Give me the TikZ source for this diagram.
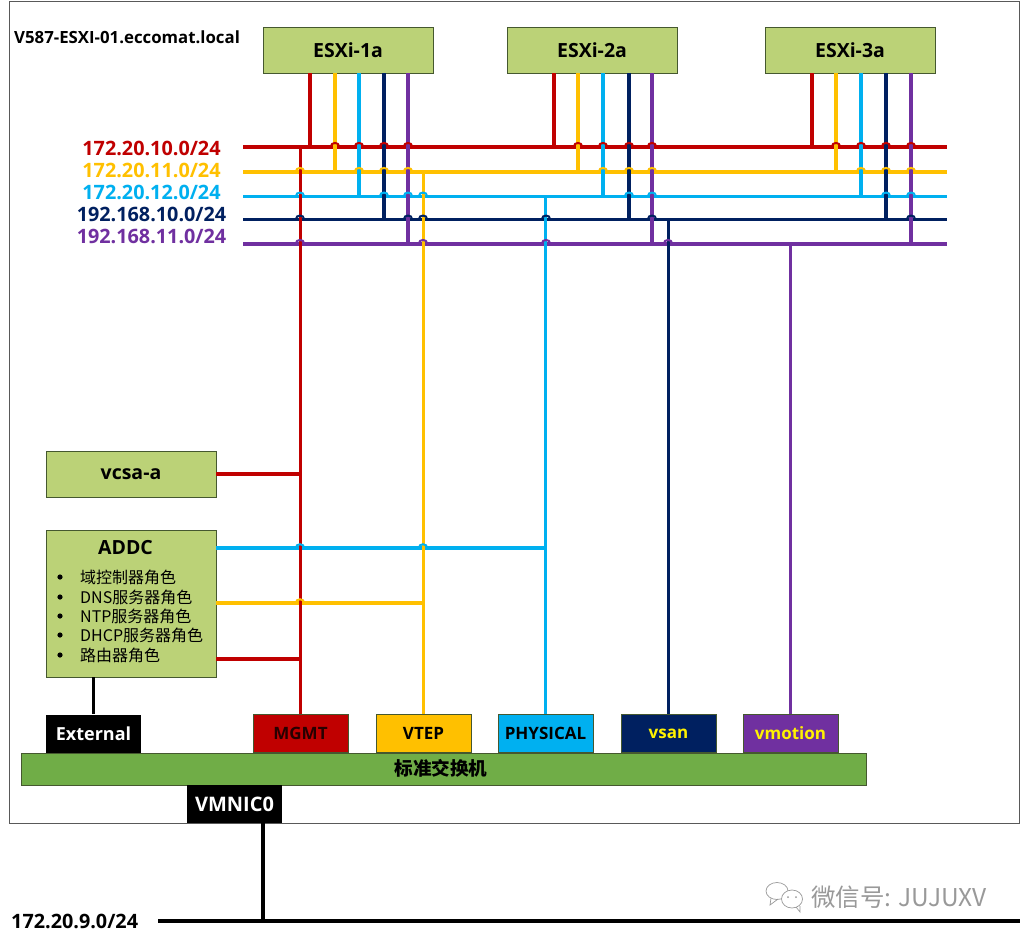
\documentclass[tikz,border=0pt]{standalone}
\usepackage{fontspec}
\setmainfont{Open Sans}
\newfontfamily\cjk{Noto Sans CJK SC}
\definecolor{cR}{HTML}{C00000}
\definecolor{cY}{HTML}{FFC000}
\definecolor{cB}{HTML}{00B0F0}
\definecolor{cN}{HTML}{002060}
\definecolor{cP}{HTML}{7030A0}
\definecolor{boxg}{HTML}{BBD277}
\definecolor{swg}{HTML}{70AD47}
\definecolor{edge}{HTML}{45582F}
\tikzset{
  wire/.style={line width=3.6pt},
  greenbox/.style={draw=edge,line width=0.8pt,fill=boxg,inner sep=0pt,font=\bfseries\fontsize{19.5}{21}\selectfont},
  portbox/.style={minimum width=95pt,minimum height=38pt,inner sep=0pt,font=\bfseries\fontsize{17}{19}\selectfont},
  netlabel/.style={anchor=center,inner sep=0pt,font=\bfseries\fontsize{19.8}{21}\selectfont},
}
% jump arc: x, y, colour
\newcommand{\jump}[3]{\draw[#3,line width=2pt] (#1-4.2,#2) .. controls (#1-4.2,#2-5) and (#1+4.2,#2-5) .. (#1+4.2,#2);}
% tap from a host box down to a bus
\newcommand{\tap}[4]{\draw[wire,#4] ([xshift=#2pt]#1.south) coordinate (tt) -- (tt |- #3);}
\begin{document}
\begin{tikzpicture}[x=1pt,y=-1pt]
\useasboundingbox (0,0) rectangle (1022,943);
\fill[white] (0,0) rectangle (1022,943);
\draw[draw=black!65,line width=1pt] (9,1.5) rectangle (1019,823.5);
\node[anchor=west,inner sep=0pt,font=\bfseries\fontsize{16.8}{18}\selectfont] (title) at (14,37) {V587-ESXI-01.eccomat.local};

% hosts
\node[greenbox,minimum width=170pt,minimum height=46pt] (e1) at (348,50) {ESXi-1a};
\node[greenbox,minimum width=170pt,minimum height=46pt] (e2) at (592,50) {ESXi-2a};
\node[greenbox,minimum width=170pt,minimum height=46pt] (e3) at (850,50) {ESXi-3a};

% bus labels
\node[netlabel,text=cR] (lR) at (151.5,148) {172.20.10.0/24};
\node[netlabel,text=cY] (lY) at (151.5,170.5) {172.20.11.0/24};
\node[netlabel,text=cB] (lB) at (151.5,192) {172.20.12.0/24};
\node[netlabel,text=cN] (lN) at (151.5,214) {192.168.10.0/24};
\node[netlabel,text=cP] (lP) at (151.5,236) {192.168.11.0/24};

% bus ends
\foreach \n/\y in {R/146.7,Y/171.7,B/196.3,N/219.3,P/243.7}{
  \coordinate (b\n a) at (243,\y);
  \coordinate (b\n b) at (947,\y);
}
\draw[wire,cR] (bRa) -- (bRb);
\draw[wire,cY] (bYa) -- (bYb);
\draw[wire,cB] (bBa) -- (bBb);
\draw[wire,cN] (bNa) -- (bNb);
\draw[wire,cP] (bPa) -- (bPb);

% vcsa, ADDC
\node[greenbox,minimum width=170pt,minimum height=46pt] (vcsa) at (131,474) {vcsa-a};
\node[greenbox,minimum width=170pt,minimum height=147pt] (addc) at (131,603.5) {};
\node[inner sep=0pt,font=\bfseries\fontsize{19.5}{21}\selectfont] (addct) at (125.5,548) {ADDC};
\foreach \nm/\yy/\txt in {i1/577/域控制器角色,i2/597/DNS服务器角色,i3/616/NTP服务器角色,i4/635/DHCP服务器角色,i5/655/路由器角色}{
  \fill (60,\yy) circle (2.6);
  \node[anchor=west,inner sep=0pt,font=\cjk\fontsize{16}{18}\selectfont] (\nm) at (80,\yy) {\txt};
}

% ports and switch
\node[portbox,fill=black,text=white,font=\bfseries\fontsize{18}{20}\selectfont] (ext) at (93.5,733.5) {External};
\node[portbox,draw=edge,line width=.6pt,fill=cR,text=black!80!cR] (mgmt) at (300.5,733.5) {MGMT};
\node[portbox,draw=edge,line width=.6pt,fill=cY] (vtep) at (423.5,733.5) {VTEP};
\node[portbox,draw=edge,line width=.6pt,fill=cB] (phys) at (545.5,733.5) {PHYSICAL};
\node[portbox,draw=edge,line width=.6pt,fill=cN,text=yellow] (vsan) at (668.5,733.5) {vsan};
\node[portbox,draw=edge,line width=.6pt,fill=cP,text=yellow] (vmot) at (790.5,733.5) {vmotion};
\node[draw=edge,line width=.8pt,fill=swg,minimum width=845pt,minimum height=32pt,inner sep=0pt] (sw) at (443.5,769) {};
\node[inner sep=0pt,font=\cjk\bfseries\fontsize{18.6}{20}\selectfont] (swt) at (441,768.5) {标准交换机};
\node[portbox,fill=black,text=white,font=\bfseries\fontsize{20}{22}\selectfont] (nic) at (234.5,804) {VMNIC0};

% host taps
\tap{e1}{-38}{bRa}{cR}\tap{e1}{-13}{bYa}{cY}\tap{e1}{11}{bBa}{cB}\tap{e1}{36}{bNa}{cN}\tap{e1}{60}{bPa}{cP}
\tap{e2}{-38}{bRa}{cR}\tap{e2}{-14}{bYa}{cY}\tap{e2}{11}{bBa}{cB}\tap{e2}{37}{bNa}{cN}\tap{e2}{60}{bPa}{cP}
\tap{e3}{-38}{bRa}{cR}\tap{e3}{-14}{bYa}{cY}\tap{e3}{11}{bBa}{cB}\tap{e3}{36}{bNa}{cN}\tap{e3}{61}{bPa}{cP}

% ADDC / vcsa feeds
\draw[wire,cB] (addc.east |- 0,548) -- (546,548);
\draw[wire,cY] (addc.east |- 0,603) -- (423,603);
\draw[wire,cR] (addc.east |- 0,659) -- (300,659);
\draw[wire,cR] (vcsa.east) -- (300,474);

% risers from ports to buses
\draw[wire,cR] (mgmt.north) -- (mgmt.north |- bRa);
\draw[wire,cY] (vtep.north) -- (vtep.north |- bYa);
\draw[wire,cB] (phys.north) -- (phys.north |- bBa);
\draw[wire,cN] (vsan.north) -- (vsan.north |- bNa);
\draw[wire,cP] (vmot.north) -- (vmot.north |- bPa);
\draw[wire,black] (addc.south -| ext.north) -- (ext.north);

% jumps
\foreach \x in {335,359,384,408,578,603,629,652,836,861,886,911}{\jump{\x}{146.7}{cR}}
\foreach \x in {300,359,384,408,603,629,652,861,886,911}{\jump{\x}{171.7}{cY}}
\foreach \x in {300,384,408,423,629,652,886,911}{\jump{\x}{196.3}{cB}}
\foreach \x in {300,408,423,546,652,911}{\jump{\x}{219.3}{cN}}
\foreach \x in {300,423,546,668}{\jump{\x}{243.7}{cP}}
\foreach \x in {300,423}{\jump{\x}{548}{cB}}
\jump{300}{603}{cY}

% uplink
\node[anchor=west,inner sep=0pt,font=\bfseries\fontsize{19.8}{21}\selectfont] (up) at (11,921) {172.20.9.0/24};
\coordinate (upa) at (158,921);
\coordinate (upb) at (1020,921);
\draw[wire,black] (upa) -- (upb);
\draw[wire,black] (nic.south -| 263,0) -- (263,921);

% watermark
\node[anchor=west,inner sep=0pt,text=black!40,font=\cjk\fontsize{24.5}{26}\selectfont] (wm) at (811,897) {微信号: JUJUXV};
\draw[black!40,line width=.7pt,fill=white] (777,891) ellipse (11 and 8.5);
\draw[black!40,line width=.7pt] (771,898) -- (770,905) -- (778,899);
\draw[black!40,line width=.7pt,fill=white] (792,899) ellipse (10.5 and 9);
\draw[black!40,line width=.7pt] (796,907) -- (800,912) -- (800,906);
\fill[black!40] (788,897) circle (1) (796,897) circle (1);
\end{tikzpicture}
\end{document}
